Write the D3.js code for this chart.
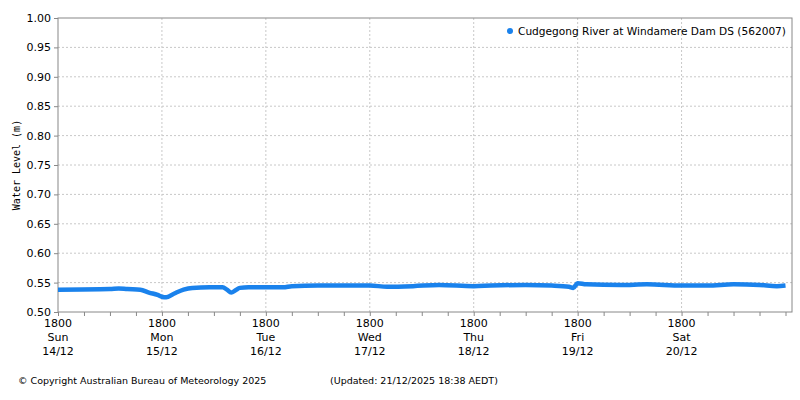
<!DOCTYPE html>
<html><head><meta charset="utf-8">
<script src="https://cdn.jsdelivr.net/npm/d3@7"></script>
<style>body{margin:0;background:#fff}svg{font-family:"DejaVu Sans",sans-serif}</style>
</head><body><svg id="c" width="800" height="400"></svg>
<script>
// hours since Sun 14/12 18:00, water level (m)
const hours = [0,12,14,16,19,21,23,24,25,27,29,31,35,38,39,40,41,42,44,52,54,60,72,76,82,88,96,100,108,114,118,119,120,122,130,136,144,150,156,162,166,168];
const levels = [0.538,0.539,0.540,0.539,0.538,0.533,0.529,0.526,0.525,0.532,0.538,0.541,0.542,0.542,0.538,0.533,0.537,0.541,0.542,0.542,0.544,0.545,0.545,0.543,0.544,0.546,0.544,0.545,0.546,0.545,0.543,0.541,0.549,0.547,0.546,0.547,0.545,0.545,0.547,0.546,0.544,0.545];
const dayNames = ["Sun","Mon","Tue","Wed","Thu","Fri","Sat"];
const dayDates = ["14/12","15/12","16/12","17/12","18/12","19/12","20/12"];
const yTicks = d3.range(0.50, 1.0001, 0.05);

const svg = d3.select("#c");
const m = {l:58, r:792, t:18, b:312};
const x = d3.scaleLinear().domain([0, 169.5]).range([m.l, m.r]);
const y = d3.scaleLinear().domain([0.5, 1.0]).range([m.b, m.t]);

// grid
svg.append("g").selectAll("line").data(yTicks.slice(1,-1)).join("line")
  .attr("x1", m.l).attr("x2", m.r).attr("y1", d=>y(d)).attr("y2", d=>y(d))
  .attr("stroke","#c8c8c8").attr("stroke-dasharray","2,2");
svg.append("g").selectAll("line").data(d3.range(1,7)).join("line")
  .attr("x1", d=>x(d*24)).attr("x2", d=>x(d*24)).attr("y1", m.t).attr("y2", m.b)
  .attr("stroke","#c8c8c8").attr("stroke-dasharray","2,2");

svg.append("rect").attr("x",m.l).attr("y",m.t).attr("width",m.r-m.l).attr("height",m.b-m.t)
  .attr("fill","none").attr("stroke","#888");

// y axis
const ya = svg.append("g").attr("transform",`translate(${m.l},0)`)
  .call(d3.axisLeft(y).tickValues(yTicks).tickFormat(d3.format(".2f")).tickSize(4));
ya.select(".domain").remove();
ya.selectAll("text").attr("font-size",11).attr("fill","#000").attr("font-family","DejaVu Sans");
ya.selectAll("line").attr("stroke","#888");

// x axis
const xa = svg.append("g").attr("transform",`translate(0,${m.b})`)
  .call(d3.axisBottom(x).tickValues(d3.range(0,169,6)).tickFormat("").tickSize(4));
xa.select(".domain").remove();
xa.selectAll("line").attr("stroke","#888");
const lab = svg.append("g").selectAll("text").data(d3.range(7)).join("text")
  .attr("x", d=>x(d*24)).attr("y", 327).attr("text-anchor","middle").attr("font-size",11);
lab.append("tspan").attr("x", d=>x(d*24)).text("1800");
lab.append("tspan").attr("x", d=>x(d*24)).attr("dy",14).text(d=>dayNames[d]);
lab.append("tspan").attr("x", d=>x(d*24)).attr("dy",14).text(d=>dayDates[d]);

svg.append("text").attr("transform","translate(20,165) rotate(-90)").attr("text-anchor","middle")
  .attr("font-family","DejaVu Sans Mono").attr("font-size",10).text("Water Level (m)");

// line
const pts = hours.map((h,i)=>[h, levels[i]]);
svg.append("path").datum(pts)
  .attr("d", d3.line().x(d=>x(d[0])).y(d=>y(d[1])).curve(d3.curveMonotoneX))
  .attr("fill","none").attr("stroke","#1a82ec").attr("stroke-width",4.5);

// legend
svg.append("circle").attr("cx",510).attr("cy",31).attr("r",3).attr("fill","#1a82ec");
svg.append("text").attr("x",518).attr("y",35).attr("font-size",11).attr("textLength",268)
  .attr("lengthAdjust","spacingAndGlyphs")
  .text("Cudgegong River at Windamere Dam DS (562007)");

svg.append("text").attr("x",18).attr("y",384).attr("font-size",9.5)
  .text("© Copyright Australian Bureau of Meteorology 2025");
svg.append("text").attr("x",330).attr("y",384).attr("font-size",9.5)
  .text("(Updated: 21/12/2025 18:38 AEDT)");
</script></body></html>
